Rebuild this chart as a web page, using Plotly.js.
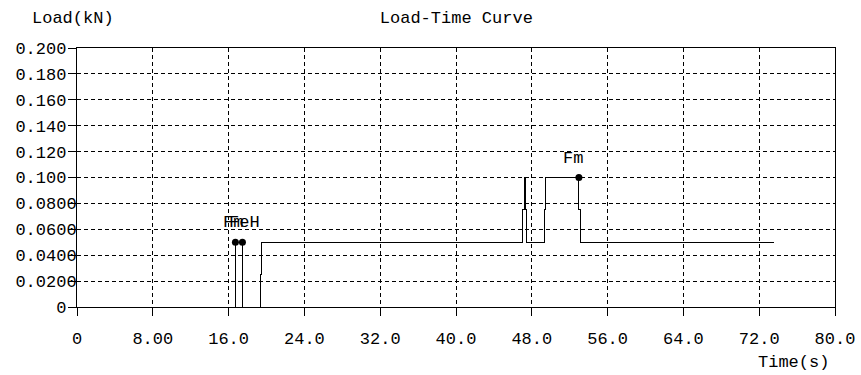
<!DOCTYPE html>
<html>
<head>
<meta charset="utf-8">
<script src="https://cdn.plot.ly/plotly-3.0.1.min.js"></script>
<style>html,body{margin:0;padding:0;background:#fff;}#chart{width:861px;height:375px;}
.scatterlayer path.js-line{shape-rendering:crispEdges;}</style>
</head>
<body>
<div id="chart"></div>
<script>
// Load-time curve (time in s, load in kN)
const timeS = [0, 16.72, 16.72, 16.72, 17.46, 17.46, 17.46, 19.39, 19.39, 19.52, 19.52,
  46.98, 46.98, 47.19, 47.19, 47.37, 47.37, 47.45, 47.45, 49.30, 49.30, 49.45, 49.45,
  52.97, 52.97, 53.15, 53.15, 73.56];
const loadKN = [0, 0, 0.05, 0, 0, 0.05, 0, 0, 0.025, 0.025, 0.05,
  0.05, 0.075, 0.075, 0.1, 0.1, 0.075, 0.075, 0.05, 0.05, 0.075, 0.075, 0.1,
  0.1, 0.075, 0.075, 0.05, 0.05];

// marked points
const markTime = [16.72, 17.46, 52.97];
const markLoad = [0.05, 0.05, 0.1];
const markLabels = ["Fm", "FeH", "Fm"];

// ticks
const xTickVals = [0, 8, 16, 24, 32, 40, 48, 56, 64, 72, 80];
const xTickText = ["0", "8.00", "16.0", "24.0", "32.0", "40.0", "48.0", "56.0", "64.0", "72.0", "80.0"];
const yTickVals = [0, 0.02, 0.04, 0.06, 0.08, 0.10, 0.12, 0.14, 0.16, 0.18, 0.20];
const yTickText = ["0", "0.0200", "0.0400", "0.0600", "0.0800", "0.100", "0.120", "0.140", "0.160", "0.180", "0.200"];

const FONT = {family: "Liberation Mono, DejaVu Sans Mono, monospace", size: 17, color: "#000"};

const traces = [
  {x: timeS, y: loadKN, type: "scatter", mode: "lines",
   line: {color: "#000", width: 1}, hoverinfo: "skip"},
  {x: markTime, y: markLoad, type: "scatter", mode: "markers",
   marker: {color: "#000", size: 7}, hoverinfo: "skip"}
];

const annotations = markTime.map((t, i) => ({
  x: t, y: markLoad[i], xref: "x", yref: "y", text: markLabels[i],
  showarrow: false, xanchor: "center", yanchor: "bottom", yshift: 8,
  xshift: i === 2 ? -6 : (i === 0 ? -2 : 2), font: FONT
}));
annotations.push({x: 1, y: 0, xref: "paper", yref: "paper", text: "Time(s)",
  showarrow: false, xanchor: "right", yanchor: "top", xshift: -4, yshift: -44, font: FONT});
annotations.push({x: 0, y: 1, xref: "paper", yref: "paper", text: "Load(kN)",
  showarrow: false, xanchor: "center", yanchor: "bottom", xshift: -4, yshift: 18, font: FONT});

// pad short y labels so all labels share one right edge (as in the reference)
const yTickShown = yTickText.map(s => s.length < 6 ? s + "\u00a0" : s);

const axisCommon = {
  showline: true, linecolor: "#000", linewidth: 1, mirror: true,
  ticks: "outside", ticklen: 8, tickcolor: "#000", tickwidth: 1,
  showgrid: true, gridcolor: "#000", gridwidth: 1, griddash: "4px,3px",
  zeroline: false, tickfont: FONT, tickmode: "array", fixedrange: true
};

const layout = {
  width: 861, height: 375,
  margin: {l: 77, r: 26, t: 48, b: 68},
  paper_bgcolor: "#fff", plot_bgcolor: "#fff",
  showlegend: false,
  font: FONT,
  title: {text: "Load-Time Curve", font: FONT, x: 0.53, xanchor: "center", y: 0.955, yanchor: "middle"},
  xaxis: Object.assign({}, axisCommon, {range: [0, 80], tickvals: xTickVals, ticktext: xTickText, ticklabelstandoff: 8}),
  yaxis: Object.assign({}, axisCommon, {range: [0, 0.2], tickvals: yTickVals, ticktext: yTickShown, ticklabelstandoff: -12}),
  annotations: annotations
};

Plotly.newPlot("chart", traces, layout, {displayModeBar: false, staticPlot: true});
</script>
</body>
</html>
